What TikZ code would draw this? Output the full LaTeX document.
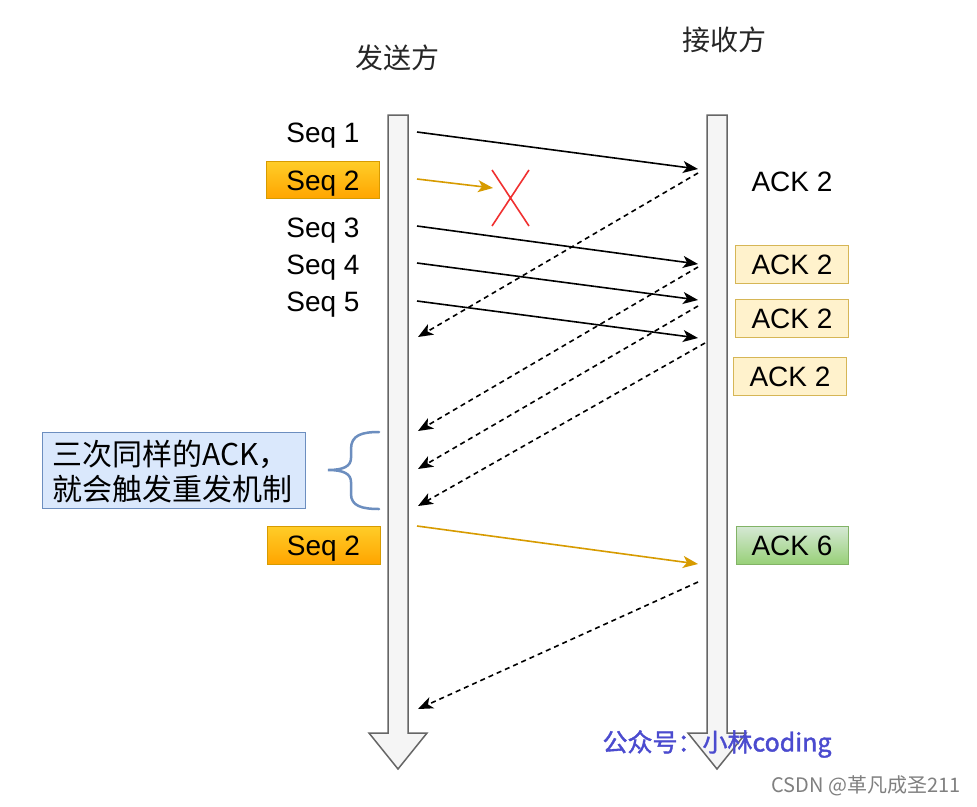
\documentclass[tikz,border=0pt]{standalone}
\usepackage{fontspec}
\setmainfont{Liberation Sans}
\newfontfamily\cjk{Noto Sans CJK SC}
\newfontfamily\cjkb[FakeBold=1.5]{Noto Sans CJK SC}
\usetikzlibrary{arrows.meta}
\definecolor{barfill}{HTML}{F5F5F5}
\definecolor{barline}{HTML}{666666}
\definecolor{orgtop}{HTML}{FFCD28}
\definecolor{orgbot}{HTML}{FFA500}
\definecolor{orgline}{HTML}{D79B00}
\definecolor{ylfill}{HTML}{FFF2CC}
\definecolor{ylline}{HTML}{D6B656}
\definecolor{grtop}{HTML}{D5E8D4}
\definecolor{grbot}{HTML}{97D077}
\definecolor{grline}{HTML}{82B366}
\definecolor{blfill}{HTML}{DAE8FC}
\definecolor{blline}{HTML}{6C8EBF}
\definecolor{wmblue}{HTML}{4B4BCF}
\definecolor{xred}{HTML}{F03030}
\tikzset{
  lbl/.style={inner sep=0pt, text height=20pt, text depth=0pt, font=\fontsize{28}{32}\selectfont},
  seqbox/.style={lbl, draw=orgline, line width=1pt, top color=orgtop, bottom color=orgbot, minimum width=113pt, minimum height=37pt},
  ackbox/.style={lbl, draw=ylline, line width=1pt, fill=ylfill, minimum width=113pt, minimum height=38pt},
  okbox/.style={lbl, draw=grline, line width=1pt, top color=grtop, bottom color=grbot, minimum width=112pt, minimum height=38pt},
  title/.style={inner sep=0pt, font=\cjk\fontsize{28}{32}\selectfont, text=black!85},
  msg/.style={line width=1.6pt, -{Stealth[length=15pt,width=12pt,inset=4pt]}},
  ackmsg/.style={msg, dash pattern=on 5pt off 4pt},
  bar/.style={fill=barfill, draw=barline, line width=1.5pt, line join=miter},
}
\begin{document}
\begin{tikzpicture}[x=1pt,y=-1pt]
\useasboundingbox (0,0) rectangle (977,806);
\fill[white] (0,0) rectangle (977,806);

% timeline bars
\draw[bar] (388,115) -- (408,115) -- (408,733) -- (427,733) -- (398,769) -- (369,733) -- (388,733) -- cycle;
\draw[bar] (707,115) -- (727,115) -- (727,733) -- (746,733) -- (717,769) -- (688,733) -- (707,733) -- cycle;

% titles
\node[title] (tsend) at (397,58) {发送方};
\node[title] (trecv) at (724,40) {接收方};

% sender labels
\node[lbl] (seq1) at (323,132) {Seq 1};
\node[seqbox] (seq2a) at (323,180) {Seq 2};
\node[lbl] (seq3) at (323,227) {Seq 3};
\node[lbl] (seq4) at (323,264) {Seq 4};
\node[lbl] (seq5) at (323,301) {Seq 5};
\node[seqbox, minimum height=38pt] (seq2b) at (323.5,545) {Seq 2};

% receiver labels
\node[lbl] (ack1) at (792,181) {ACK 2};
\node[ackbox] (ack2a) at (792,264) {ACK 2};
\node[ackbox] (ack2b) at (792,318) {ACK 2};
\node[ackbox] (ack2c) at (790,376) {ACK 2};
\node[okbox] (ack6) at (792,545.5) {ACK 6};

% note
\node[draw=blline, fill=blfill, line width=1pt, minimum width=263pt, minimum height=76pt, inner sep=0pt] (note) at (173.5,470) {};
\node[font=\cjk\fontsize{30}{35}\selectfont, align=left, inner sep=0pt, anchor=west] (notetxt) at (52,472) {三次同样的ACK，\\就会触发重发机制};

% brace
\draw[blline, line width=2.5pt, line cap=round]
  (379,432) .. controls (362,432) and (351,435) .. (351,449) -- (351,458)
  .. controls (351,466) and (344,470) .. (328,470)
  .. controls (344,470) and (351,474) .. (351,482) -- (351,494)
  .. controls (351,506) and (362,509) .. (379,509);

% coordinates for messages
\coordinate (s1) at (417,132); \coordinate (r1) at (698,169);
\coordinate (s2) at (417,179); \coordinate (lost) at (493,188);
\coordinate (s3) at (417,226); \coordinate (r3) at (698,264);
\coordinate (s4) at (417,263); \coordinate (r4) at (698,300);
\coordinate (s5) at (417,301); \coordinate (r5) at (698,338);
\coordinate (s6) at (417,526); \coordinate (r6) at (698,564);
\coordinate (a1s) at (698,173); \coordinate (a1e) at (418,337);
\coordinate (a2s) at (698,267); \coordinate (a2e) at (418,431);
\coordinate (a3s) at (698,306); \coordinate (a3e) at (418,469);
\coordinate (a4s) at (705,343); \coordinate (a4e) at (418,506);
\coordinate (a5s) at (698,582); \coordinate (a5e) at (418,709);

\draw[msg] (s1) -- (r1);
\draw[msg, orgline] (s2) -- (lost);
\draw[msg] (s3) -- (r3);
\draw[msg] (s4) -- (r4);
\draw[msg] (s5) -- (r5);
\draw[msg, orgline] (s6) -- (r6);
\draw[ackmsg] (a1s) -- (a1e);
\draw[ackmsg] (a2s) -- (a2e);
\draw[ackmsg] (a3s) -- (a3e);
\draw[ackmsg] (a4s) -- (a4e);
\draw[ackmsg] (a5s) -- (a5e);

% lost mark
\draw[xred, line width=1.6pt] (492,170) -- (529,226) (529,170) -- (492,226);

% watermarks
\node[inner sep=0pt, text=wmblue, font=\cjkb\fontsize{25}{28}\selectfont] (wm) at (717,744) {公众号：小林coding};
\node[inner sep=0pt, text=black!50, font=\cjk\fontsize{20}{24}\selectfont, anchor=east] (csdn) at (961,786) {CSDN @革凡成圣211};
\end{tikzpicture}
\end{document}
